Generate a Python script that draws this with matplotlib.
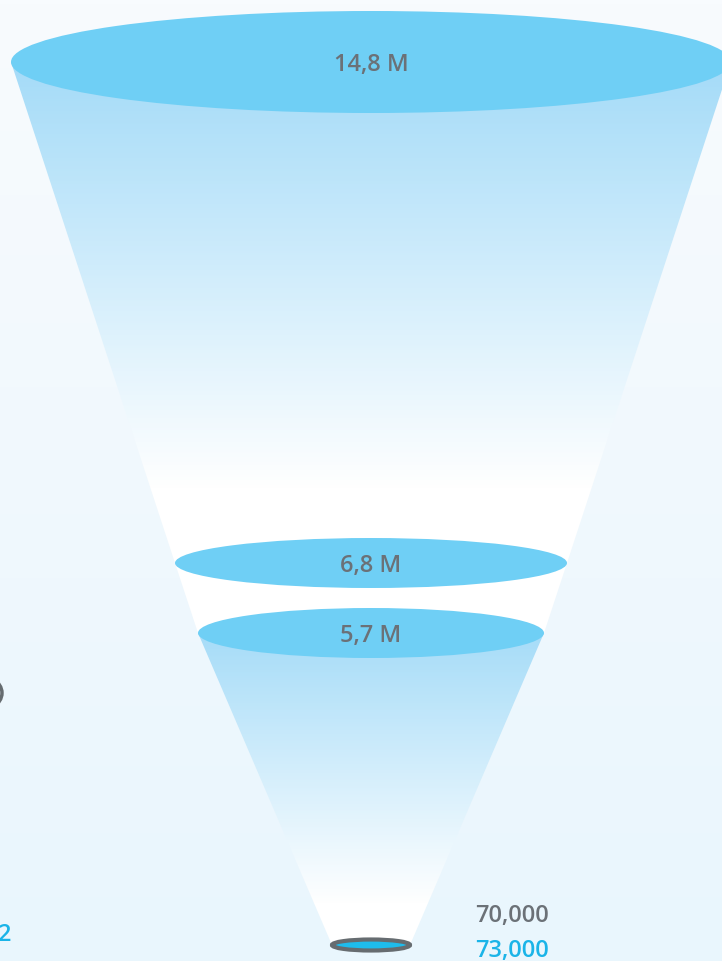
import numpy as np
import matplotlib
matplotlib.use("Agg")
import matplotlib.pyplot as plt
from matplotlib.patches import Ellipse, Polygon
from matplotlib.colors import LinearSegmentedColormap

# ---- data ----
stage_values = [14.8, 6.8, 5.7]
stage_labels = ["14,8 M", "6,8 M", "5,7 M"]
final_values = [70000, 73000]
final_labels = ["70,000", "73,000"]
side_label = "2"

# ---- layout ----
W, H = 722, 961
fig = plt.figure(figsize=(W / 100, H / 100), dpi=100)
ax = fig.add_axes([0, 0, 1, 1])
ax.set_xlim(0, W)
ax.set_ylim(H, 0)
ax.axis("off")

font = ["Open Sans", "DejaVu Sans"]
gray = "#6b7177"
blue_txt = "#1ab4e8"
ell_col = "#6fcff5"
fs = 17

# background gradient
bg = LinearSegmentedColormap.from_list("bg", ["#f8fbfe", "#e9f6fd"])
grad = np.linspace(0, 1, 256).reshape(-1, 1)
ax.imshow(grad, cmap=bg, extent=[0, W, H, 0], aspect="auto", zorder=0)

cx = 371
# ellipse geometry: (center y, width, height)
geo = [(62, 720, 102), (563, 392, 50), (633, 346, 50)]
tip_y, tip_w, tip_h = 945, 78, 11

def grad_poly(pts, y0, y1, c0, z):
    poly = Polygon(pts, closed=True, facecolor="none", edgecolor="none", zorder=z)
    ax.add_patch(poly)
    cm = LinearSegmentedColormap.from_list("g", [c0, "#ffffff"])
    g = np.clip((np.linspace(0, H, 961) - y0) / (y1 - y0), 0, 1).reshape(-1, 1)
    im = ax.imshow(g, cmap=cm, extent=[0, W, H, 0], aspect="auto", zorder=z,
                   vmin=0, vmax=1)
    im.set_clip_path(poly)

(y0, w0, h0), (y1, w1, h1), (y2, w2, h2) = geo
# top cone
grad_poly([(cx - w0 / 2, y0), (cx + w0 / 2, y0), (cx + w1 / 2, y1), (cx - w1 / 2, y1)],
          y0, 490, "#a4dbf8", 1)
# middle white segment
ax.add_patch(Polygon([(cx - w1 / 2, y1), (cx + w1 / 2, y1), (cx + w2 / 2, y2), (cx - w2 / 2, y2)],
                     closed=True, facecolor="white", edgecolor="none", zorder=1))
# bottom cone
grad_poly([(cx - w2 / 2, y2), (cx + w2 / 2, y2), (cx + tip_w / 2, tip_y), (cx - tip_w / 2, tip_y)],
          y2, 905, "#a6dcf8", 1)

for (yc, w, h), lab in zip(geo, stage_labels):
    ax.add_patch(Ellipse((cx, yc), w, h, facecolor=ell_col, edgecolor="none", zorder=3))
    ax.text(cx, yc + 3, lab, ha="center", va="center", fontsize=fs,
            color=gray, family=font, fontweight="semibold", zorder=4)

# tip ellipse
ax.add_patch(Ellipse((cx, tip_y), tip_w, tip_h, facecolor="#1ebcec",
                     edgecolor="#666c70", linewidth=3, zorder=3))

# final labels
ax.text(475, 916, final_labels[0], ha="left", va="center", fontsize=fs,
        color=gray, family=font, fontweight="semibold", zorder=4)
ax.text(475, 951, final_labels[1], ha="left", va="center", fontsize=fs,
        color=blue_txt, family=font, fontweight="semibold", zorder=4)

# clipped neighbours at left edge
ax.add_patch(Ellipse((-30, 693), 64, 42, facecolor="none", edgecolor="#666c70",
                     linewidth=2.5, zorder=3))
ax.text(11, 935, side_label, ha="right", va="center", fontsize=fs,
        color=blue_txt, family=font, fontweight="semibold", zorder=4)

fig.savefig("out.png", dpi=100)
